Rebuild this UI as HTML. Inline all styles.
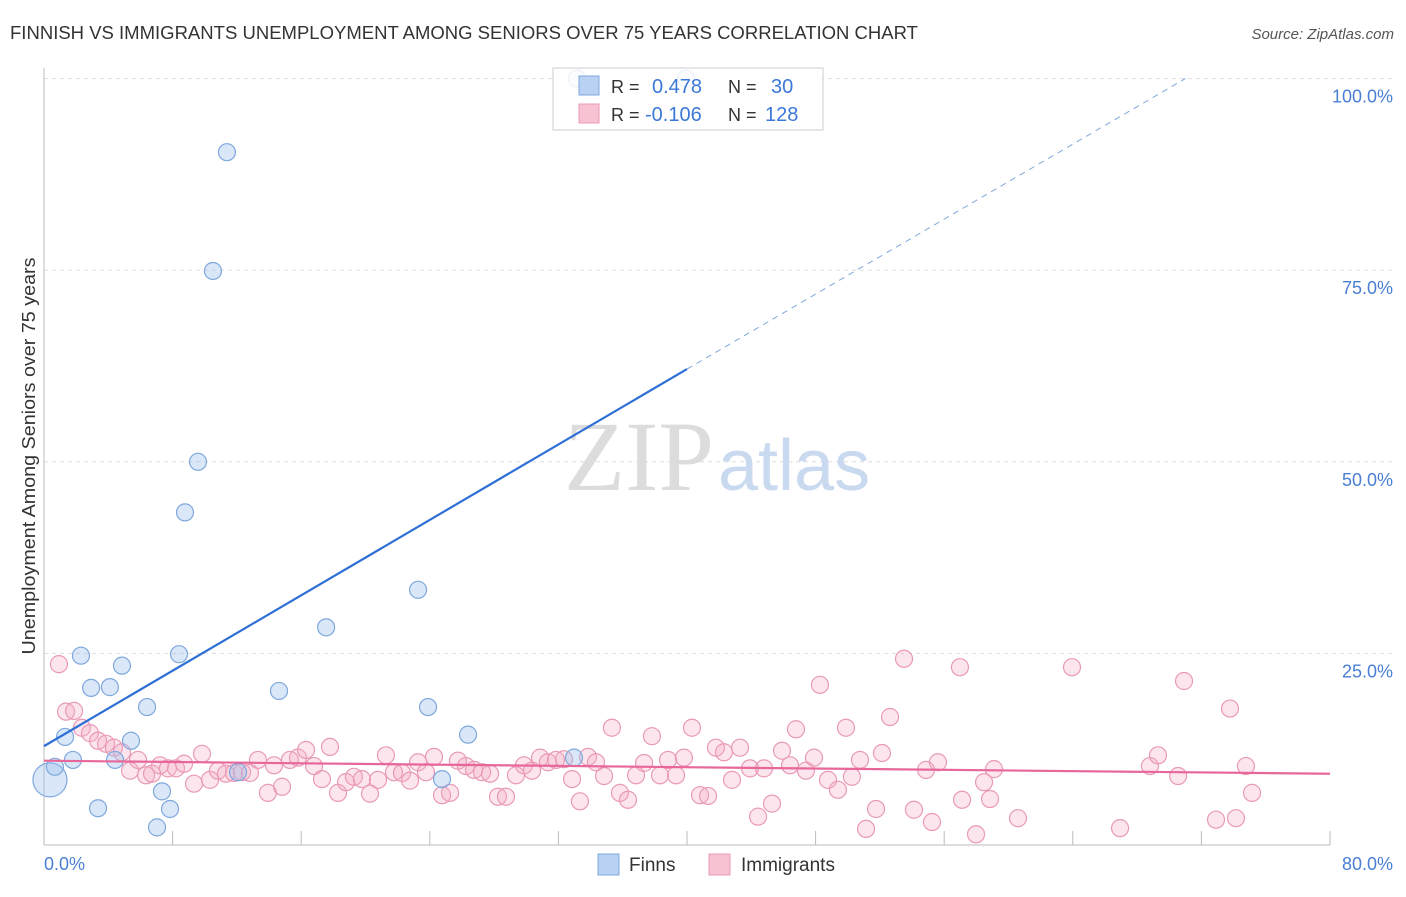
<!DOCTYPE html>
<html><head><meta charset="utf-8"><style>
body{margin:0;background:#fff;font-family:"Liberation Sans",sans-serif;}
svg text{font-family:"Liberation Sans",sans-serif;}
</style></head><body>
<svg id="chart" width="1406" height="892">
<text x="10" y="39" font-size="18" fill="#333" textLength="908" lengthAdjust="spacingAndGlyphs">FINNISH VS IMMIGRANTS UNEMPLOYMENT AMONG SENIORS OVER 75 YEARS CORRELATION CHART</text>
<text x="1394" y="39" font-size="15" fill="#555" font-style="italic" text-anchor="end">Source: ZipAtlas.com</text>
<g id="grid"></g>
<text x="714" y="490" font-size="100" fill="#dcdcdc" text-anchor="end" style="font-family:'Liberation Serif',serif">ZIP</text>
<text x="718" y="490" font-size="72" fill="#c9d9ef">atlas</text>
<g id="marks"></g>
<text x="35" y="456" font-size="18" fill="#333" text-anchor="middle" textLength="397" lengthAdjust="spacingAndGlyphs" transform="rotate(-90 35 456)">Unemployment Among Seniors over 75 years</text>
<text x="44" y="870" font-size="18" fill="#4a7fd4">0.0%</text>
<text x="1393" y="870" font-size="18" fill="#4a7fd4" text-anchor="end">80.0%</text>
<g>
<rect x="553" y="68" width="270" height="62" fill="rgba(255,255,255,0.85)" stroke="#ccc"/>
<rect x="579" y="76" width="20" height="19" fill="#b9d2f3" stroke="#7fa8dc"/>
<rect x="579" y="104" width="20" height="19" fill="#f7c3d3" stroke="#e89ab5"/>
<text x="611" y="93" font-size="18" fill="#333">R =</text>
<text x="652" y="93" font-size="20" fill="#3b78d8">0.478</text>
<text x="728" y="93" font-size="18" fill="#333">N =</text>
<text x="771" y="93" font-size="20" fill="#3b78d8">30</text>
<text x="611" y="121" font-size="18" fill="#333">R =</text>
<text x="645" y="121" font-size="20" fill="#3b78d8">-0.106</text>
<text x="728" y="121" font-size="18" fill="#333">N =</text>
<text x="765" y="121" font-size="20" fill="#3b78d8">128</text>
</g>
<g>
<rect x="598" y="854" width="21" height="21" fill="#b9d2f3" stroke="#7fa8dc"/>
<text x="629" y="871" font-size="19" fill="#333">Finns</text>
<rect x="709" y="854" width="21" height="21" fill="#f7c3d3" stroke="#e89ab5"/>
<text x="741" y="871" font-size="19" fill="#333">Immigrants</text>
</g>
</svg>
<script>
const yTicks=[25,50,75,100];
const yTickLabels=["25.0%","50.0%","75.0%","100.0%"];
const xTicks=[0,8,16,24,32,40,48,56,64,72,80];
const finnsX=[0.37,0.68,1.31,1.8,2.3,2.93,3.36,4.1,4.42,4.85,5.41,6.41,7.03,7.34,7.84,8.4,8.77,9.58,10.51,11.38,12.07,14.62,17.55,23.27,23.89,24.76,26.38,32.97,33.16,39.94];
const finnsY=[8.5,10.2,14.1,11.1,24.7,20.5,4.8,20.6,11.1,23.4,13.6,18.0,2.3,7.0,4.7,24.9,43.4,50.0,74.9,90.4,9.5,20.1,28.4,33.3,18.0,8.6,14.4,11.4,100,100];
const immX=[0.93,1.37,1.87,2.36,2.86,3.36,3.86,4.35,4.85,5.35,5.85,6.35,6.72,7.22,7.71,8.21,8.71,9.33,9.83,10.33,10.82,11.32,11.82,12.32,12.81,13.31,13.93,14.31,14.81,15.3,15.8,16.3,16.8,17.29,17.79,18.29,18.79,19.28,19.78,20.28,20.78,21.27,21.77,22.27,22.77,23.27,23.76,24.26,24.76,25.26,25.75,26.25,26.75,27.25,27.75,28.24,28.74,29.36,29.86,30.36,30.86,31.35,31.85,32.35,32.85,33.34,33.84,34.34,34.84,35.33,35.83,36.33,36.83,37.33,37.82,38.32,38.82,39.32,39.81,40.31,40.81,41.31,41.8,42.3,42.8,43.3,43.92,44.42,44.79,45.29,45.91,46.41,46.78,47.4,47.9,48.27,48.77,49.39,49.89,50.26,50.76,51.14,51.76,52.13,52.63,53.5,54.12,54.87,55.24,55.61,56.98,57.11,57.98,58.48,58.85,59.1,60.59,63.95,66.94,68.8,69.3,70.55,70.92,72.91,73.78,74.15,74.77,75.15];
const immY=[23.6,17.4,17.5,15.3,14.6,13.6,13.2,12.7,12.1,9.7,11.1,9.1,9.3,10.4,10.0,10.0,10.6,8.0,11.9,8.5,9.7,9.3,9.4,9.5,9.4,11.1,6.8,10.4,7.6,11.1,11.4,12.4,10.3,8.6,12.8,6.8,8.2,8.9,8.6,6.7,8.5,11.7,9.5,9.4,8.4,10.8,9.5,11.5,6.5,6.8,11.0,10.3,9.8,9.5,9.3,6.3,6.3,9.1,10.4,9.7,11.4,10.8,11.1,11.2,8.6,5.7,11.5,10.8,9.0,15.3,6.8,5.9,9.1,10.7,14.2,9.1,11.1,9.1,11.4,15.3,6.5,6.4,12.7,12.1,8.5,12.7,10.0,3.7,10.0,5.4,12.3,10.4,15.1,9.7,11.4,20.9,8.5,7.2,15.3,8.9,11.1,2.1,4.7,12.0,16.7,24.3,4.6,9.8,3.0,10.8,23.2,5.9,1.4,8.2,6.0,9.9,3.5,23.2,2.2,10.3,11.7,9.0,21.4,3.3,17.8,3.5,10.3,6.8];
const finnsTrend=[12.9,62.1];
const finnsTrendDashEnd=[71,100];
const immTrend=[11.0,9.3];

const NS="http://www.w3.org/2000/svg";
const X=v=>44+v*16.075;
const Y=v=>845-v*7.664;
const grid=document.getElementById('grid'),marks=document.getElementById('marks');
function mk(p,tag,a){const e=document.createElementNS(NS,tag);for(const k in a)e.setAttribute(k,a[k]);p.appendChild(e);return e;}
yTicks.forEach((t,i)=>{
 const l=mk(grid,'line',{x1:44,x2:1394,y1:Y(t),y2:Y(t),stroke:'#ddd','stroke-dasharray':'4 4'});
 
 
 const tx=mk(grid,'text',{x:1393,y:Y(t)+24,'font-size':18,fill:'#4a7fd4','text-anchor':'end'});
 tx.textContent=yTickLabels[i];
 
 
});
const ax=mk(grid,'line',{x1:44,x2:1330,y1:845,y2:845,stroke:'#bbb'});


const ay=mk(grid,'line',{x1:44,x2:44,y1:68,y2:845,stroke:'#bbb'});


xTicks.forEach(t=>{
 const l=mk(grid,'line',{x1:X(t),x2:X(t),y1:831,y2:845,stroke:'#bbb'});
 
 
});
immX.forEach((v,i)=>{
 const c=mk(marks,'circle',{cx:X(v),cy:Y(immY[i]),r:8.5,fill:'rgba(245,170,195,0.3)',stroke:'#e99ab6','stroke-width':1.2});
 
 
});
finnsX.forEach((v,i)=>{
 const c=mk(marks,'circle',{cx:X(v),cy:Y(finnsY[i]),r:i===0?17:8.5,fill:'rgba(160,195,240,0.4)',stroke:'#7fa8dc','stroke-width':1.2});
 
 
});
const bl=mk(marks,'line',{x1:X(0),y1:Y(finnsTrend[0]),x2:X(40),y2:Y(finnsTrend[1]),stroke:'#2e6fd6','stroke-width':2.2});


const bd=mk(marks,'line',{x1:X(40),y1:Y(finnsTrend[1]),x2:X(finnsTrendDashEnd[0]),y2:Y(finnsTrendDashEnd[1]),stroke:'#7fa8dc','stroke-width':1,'stroke-dasharray':'6 5'});


const pl=mk(marks,'line',{x1:X(0),y1:Y(immTrend[0]),x2:X(80),y2:Y(immTrend[1]),stroke:'#e8679a','stroke-width':2.2});


</script>
</body></html>
